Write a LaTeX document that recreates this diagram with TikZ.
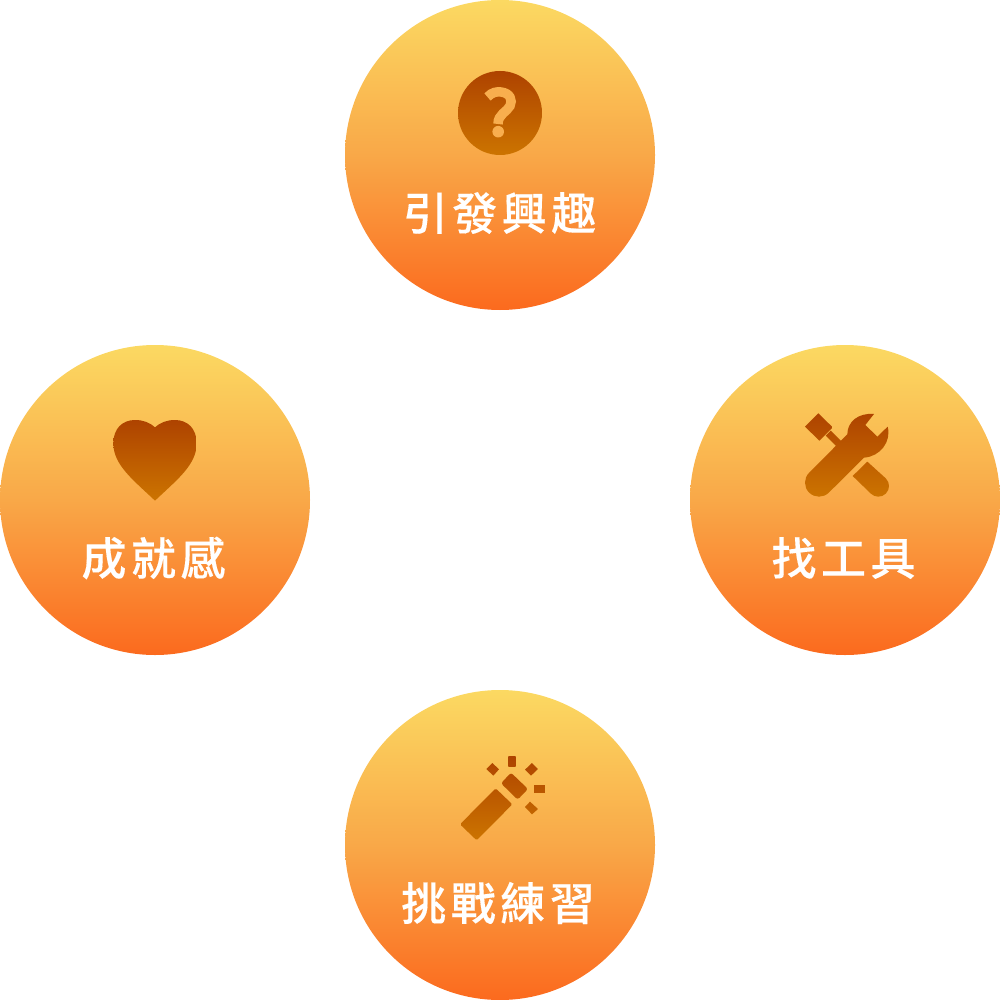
\documentclass[tikz,border=0pt]{standalone}
\usepackage{fontspec}
\newfontfamily\cjk[LetterSpace=10,FakeBold=0.25]{Noto Sans CJK TC Medium}
\definecolor{dB}{HTML}{FB6A1E}
\definecolor{dM}{HTML}{F9A848}
\definecolor{dT}{HTML}{FBD962}
\definecolor{iT}{HTML}{AE4300}
\definecolor{iB}{HTML}{CC7400}
\definecolor{qmark}{HTML}{F8AE4E}
\pgfdeclareverticalshading{discgrad}{100bp}{
  color(0bp)=(dB);color(25bp)=(dB);color(50bp)=(dM);color(75bp)=(dT);color(100bp)=(dT)}
\tikzset{
  disc/.style={circle,minimum size=310pt,inner sep=0pt,outer sep=0pt,shading=discgrad},
  lab/.style={text=white,font=\cjk\fontsize{45pt}{45pt}\selectfont,inner sep=0pt},
  icongrad/.style={top color=iT,bottom color=iB,draw=none},
  zoomed/.style={x=0.3333pt,y=-0.3333pt}
}
% #1 icon bounding rectangle, #2 shape path
\newcommand\iconpaint[2]{\begin{scope}\clip #2; \shade[icongrad] #1; \end{scope}}
\begin{document}
\begin{tikzpicture}[x=1pt,y=-1pt]
\useasboundingbox (0,0) rectangle (1000,1000);
\node[disc] (top) at (500,155) {};
\node[disc] (right) at (845,500) {};
\node[disc] (bottom) at (500,845) {};
\node[disc] (left) at (155,500) {};
\node[lab] (toplab) at (499.5,213) {引發興趣};
\node[lab] (rightlab) at (843.5,558) {找工具};
\node[lab] (bottomlab) at (498,903) {挑戰練習};
\node[lab] (leftlab) at (153.5,558) {成就感};
% question
\iconpaint{(458,71) rectangle (542,155)}{(500,113) circle[radius=42]}
\draw[qmark,line width=9.5pt] (487.5,97) .. controls (492,92) and (497,91.5) .. (501,92) .. controls (510,93) and (513,100) .. (510,106) .. controls (507,112) and (498,114) .. (498,124);
\fill[qmark] (498.2,131.7) circle[radius=5.8];
% tools
\begin{scope}[shift={(790,400)},zoomed]
\iconpaint{(30,38) rectangle (300,292)}{(85,40) -- (128,82) -- (88,122) -- (45,80) -- cycle}
\iconpaint{(30,38) rectangle (300,292)}{(122,92) -- (165,135) -- (150,150) -- (107,107) -- cycle}
\iconpaint{(30,38) rectangle (300,292)}{(252,42) -- (226,75) -- (262,110) -- (293,80) .. controls (305,125) and (270,170) .. (222,173) -- (116.7,277.7) arc[start angle=45,end angle=225,radius=42] -- (172,103) .. controls (172,65) and (205,38) .. cycle}
\iconpaint{(30,38) rectangle (300,292)}{(232,185) -- (287.6,235.4) arc[start angle=-45,end angle=135,radius=32] -- (188,228) -- cycle}
\end{scope}
% wand
\begin{scope}[shift={(450,745)},zoomed]
\iconpaint{(30,33) rectangle (285,285)}{[rounded corners=1.5pt] (137,130) -- (187,178) -- (80,286) -- (30,238) -- cycle}
\iconpaint{(30,33) rectangle (285,285)}{[rounded corners=2.5pt] (183,83) -- (234,132) -- (203,164) -- (153,115) -- cycle}
\iconpaint{(30,33) rectangle (285,285)}{(175,33) rectangle (197,65)}
\iconpaint{(30,33) rectangle (285,285)}{(252,120) rectangle (285,142)}
\iconpaint{(30,33) rectangle (285,285)}{(127,54) -- (147,73) -- (130,92) -- (109,72) -- cycle}
\iconpaint{(30,33) rectangle (285,285)}{(246,54) -- (264,72) -- (243,92) -- (225,74) -- cycle}
\iconpaint{(30,33) rectangle (285,285)}{(240,170) -- (264,192) -- (246,208) -- (225,186) -- cycle}
\end{scope}
% heart
\begin{scope}[shift={(100,410)},zoomed]
\iconpaint{(40,30) rectangle (290,272)}{(165,272) .. controls (100,210) and (40,165) .. (40,100) .. controls (40,55) and (68,30) .. (105,30) .. controls (130,30) and (150,38) .. (165,52) .. controls (180,38) and (200,30) .. (225,30) .. controls (262,30) and (290,55) .. (290,100) .. controls (290,165) and (230,210) .. cycle}
\end{scope}
\end{tikzpicture}
\end{document}
